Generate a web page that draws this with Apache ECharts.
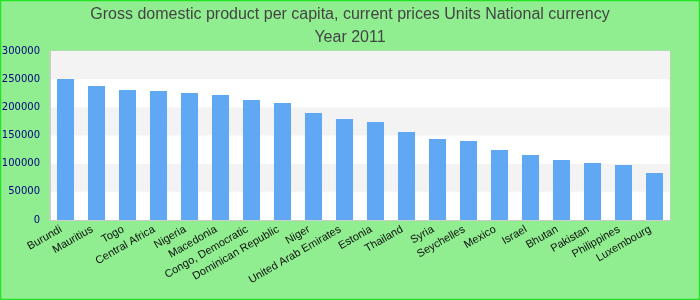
<!DOCTYPE html>
<html>
<head>
<meta charset="utf-8">
<script src="https://cdn.jsdelivr.net/npm/echarts@6/dist/echarts.min.js"></script>
<style>html,body{margin:0;padding:0;}#c{width:700px;height:300px;}</style>
</head>
<body>
<div id="c"></div>
<script>
const categories = ["Burundi","Mauritius","Togo","Central Africa","Nigeria","Macedonia","Congo, Democratic","Dominican Republic","Niger","United Arab Emirates","Estonia","Thailand","Syria","Seychelles","Mexico","Israel","Bhutan","Pakistan","Philippines","Luxembourg"];
const values = [250300,237900,230800,229000,225400,221900,213000,207700,189900,179300,174000,156200,143800,140200,124300,115400,106500,101200,97600,83400];
const titleLines = ["Gross domestic product per capita, current prices Units National currency","Year 2011"];

const chart = echarts.init(document.getElementById('c'), null, {renderer:'canvas'});
chart.setOption({
  backgroundColor: '#90ee90',
  animation: false,
  title: {
    text: titleLines.join('\n'),
    left: 'center',
    top: -2,
    textStyle: {color:'#444', fontSize:16, fontWeight:'normal', fontFamily:'Liberation Sans, Arial', lineHeight:23}
  },
  graphic: [{type:'rect', shape:{x:0.5,y:0.5,width:699,height:299}, style:{fill:'none', stroke:'#22e622', lineWidth:1.5}, silent:true}],
  grid: {left:50, right:30, top:51, bottom:80, show:true, backgroundColor:'#fff', borderColor:'#ccc', borderWidth:1, containLabel:false, outerBoundsMode:'none'},
  xAxis: {
    type:'category', data:categories,
    axisTick:{show:false},
    axisLine:{lineStyle:{color:'#ccc'}},
    axisLabel:{interval:0, rotate:30, color:'#111', fontSize:11, fontFamily:'Liberation Sans, Arial', margin:6, padding:[0,5,0,0]}
  },
  yAxis: {
    type:'value', min:0, max:300000, interval:50000,
    axisLine:{show:true, lineStyle:{color:'#ccc'}},
    axisTick:{show:false},
    splitLine:{show:false},
    splitArea:{show:true, areaStyle:{color:['#ffffff','#f3f3f3']}},
    axisLabel:{color:'#000080', fontSize:10, fontFamily:'DejaVu Sans', margin:10, formatter: v => String(v)}
  },
  series: [{type:'bar', data:values, barCategoryGap:'45%', itemStyle:{color:'#60a8f4'}}]
});
</script>
</body>
</html>
